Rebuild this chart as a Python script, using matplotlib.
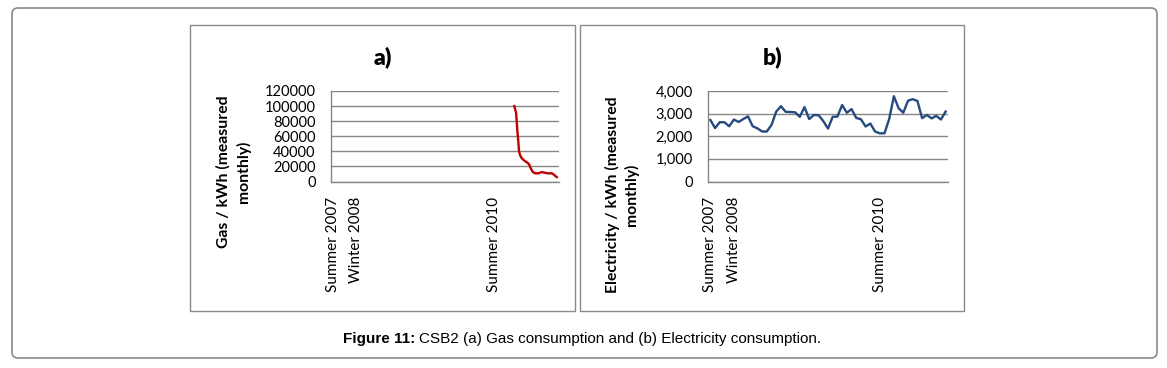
import matplotlib
matplotlib.use("Agg")
import matplotlib.pyplot as plt
from matplotlib.patches import Rectangle, FancyBboxPatch
from matplotlib.transforms import IdentityTransform
from matplotlib.ticker import FuncFormatter, MultipleLocator

# ---------------- data ----------------
months = list(range(51))  # monthly categories, Summer 2007 .. 2011
tick_positions = [0, 5, 36]
tick_labels = ["Summer 2007", "Winter 2008", "Summer 2010"]

electricity = [2720, 2360, 2620, 2620, 2440, 2740, 2630, 2760, 2880, 2440,
               2350, 2210, 2210, 2500, 3090, 3330, 3080, 3070, 3060, 2860,
               3290, 2760, 2940, 2930, 2670, 2340, 2860, 2870, 3380, 3040,
               3200, 2810, 2750, 2430, 2560, 2210, 2130, 2130, 2760, 3770,
               3240, 3040, 3570, 3640, 3560, 2800, 2940, 2790, 2900, 2740,
               3090]

gas_month = [40.5, 40.9, 41.04, 41.19, 41.4, 41.56, 41.79, 42.16, 42.68, 43.28,
             43.8, 44.17, 44.6, 45.1, 45.85, 46.6, 47.38, 48.1, 48.87, 49.25, 50.0]
gas = [100000, 91000, 80000, 66500, 53000, 40000, 35000, 31000, 28000, 25500,
       23000, 17500, 13000, 11000, 10700, 12500, 11600, 10700, 11000, 9500, 5800]

# ---------------- layout ----------------
W, H = 1167, 368
fig = plt.figure(figsize=(W / 100, H / 100), dpi=100)
fig.patch.set_facecolor("white")

GRID = "#868686"
BORDER = "#8a8a8a"
FONT = ["Lato", "DejaVu Sans"]


def rect_px(x0, y0, x1, y1):
    """top-left pixel coords -> display rect."""
    return x0, H - y1, x1 - x0, y1 - y0


# outer rounded border
x, y, w, h = rect_px(12, 8, 1157, 358)
fig.patches.append(FancyBboxPatch((x, y), w, h,
                                  boxstyle="round,pad=0,rounding_size=6",
                                  transform=IdentityTransform(), fill=False,
                                  edgecolor=BORDER, linewidth=1.2))
# panel borders
for (a, b, c, d) in [(190, 25, 575, 311), (580, 25, 964, 311)]:
    x, y, w, h = rect_px(a, b, c, d)
    fig.patches.append(Rectangle((x, y), w, h, transform=IdentityTransform(),
                                 fill=False, edgecolor=BORDER, linewidth=1.0))


def make_axes(x0, x1, y0=91, y1=181.5):
    ax = fig.add_axes([x0 / W, (H - y1) / H, (x1 - x0) / W, (y1 - y0) / H])
    ax.set_facecolor("none")
    for s in ["top", "right"]:
        ax.spines[s].set_visible(False)
    for s in ["left", "bottom"]:
        ax.spines[s].set_color(GRID)
        ax.spines[s].set_linewidth(1.0)
    ax.grid(axis="y", color=GRID, linewidth=1.0)
    ax.set_axisbelow(True)
    ax.set_xlim(-0.5, len(months) - 0.5)
    ax.set_xticks(tick_positions)
    ax.set_xticklabels(tick_labels, rotation=90, fontsize=11, family=FONT)
    ax.tick_params(axis="x", length=0, pad=11)
    ax.tick_params(axis="y", length=0, pad=11, labelsize=10.5)
    return ax


# ---- panel a: gas ----
ax1 = make_axes(331, 559)
ax1.plot(gas_month, gas, color="#C00000", linewidth=1.7, solid_joinstyle="round")
ax1.set_ylim(0, 120000)
ax1.yaxis.set_major_locator(MultipleLocator(20000))
ax1.yaxis.set_major_formatter(FuncFormatter(lambda v, p: f"{int(v)}"))

# ---- panel b: electricity ----
ax2 = make_axes(708, 948)
ax2.plot(months, electricity, color="#254A7E", linewidth=1.7, solid_joinstyle="round")
ax2.set_ylim(0, 4000)
ax2.yaxis.set_major_locator(MultipleLocator(1000))
ax2.yaxis.set_major_formatter(FuncFormatter(lambda v, p: f"{int(v):,}"))

fig.canvas.draw()
for ax in (ax1, ax2):
    for lab in ax.get_yticklabels():
        lab.set_family(FONT)

# titles
fig.text(383 / W, 1 - 57 / H, "a)", ha="center", va="center", fontsize=16.5,
         fontweight="heavy", family=FONT)
fig.text(773 / W, 1 - 57 / H, "b)", ha="center", va="center", fontsize=16.5,
         fontweight="heavy", family=FONT)

# y-axis titles
fig.text(233.5 / W, 1 - 172 / H, "Gas / kWh (measured\nmonthly)", rotation=90,
         ha="center", va="center", fontsize=11.3, fontweight="bold", family=FONT,
         multialignment="center", linespacing=1.4)
fig.text(622 / W, 1 - 195 / H, "Electricity / kWh (measured\nmonthly)", rotation=90,
         ha="center", va="center", fontsize=11.3, fontweight="bold", family=FONT,
         multialignment="center", linespacing=1.4)

# caption
cap_y = 1 - 339 / H
t1 = fig.text(343 / W, cap_y, "Figure 11:", ha="left", va="center", fontsize=11,
              fontweight="bold", family=["Liberation Sans", "DejaVu Sans"])
fig.canvas.draw()
bb = t1.get_window_extent()
fig.text((bb.x1 + 4) / W, cap_y, "CSB2 (a) Gas consumption and (b) Electricity consumption.",
         ha="left", va="center", fontsize=11, family=["Liberation Sans", "DejaVu Sans"])

fig.savefig("out.png", dpi=100, facecolor="white")
